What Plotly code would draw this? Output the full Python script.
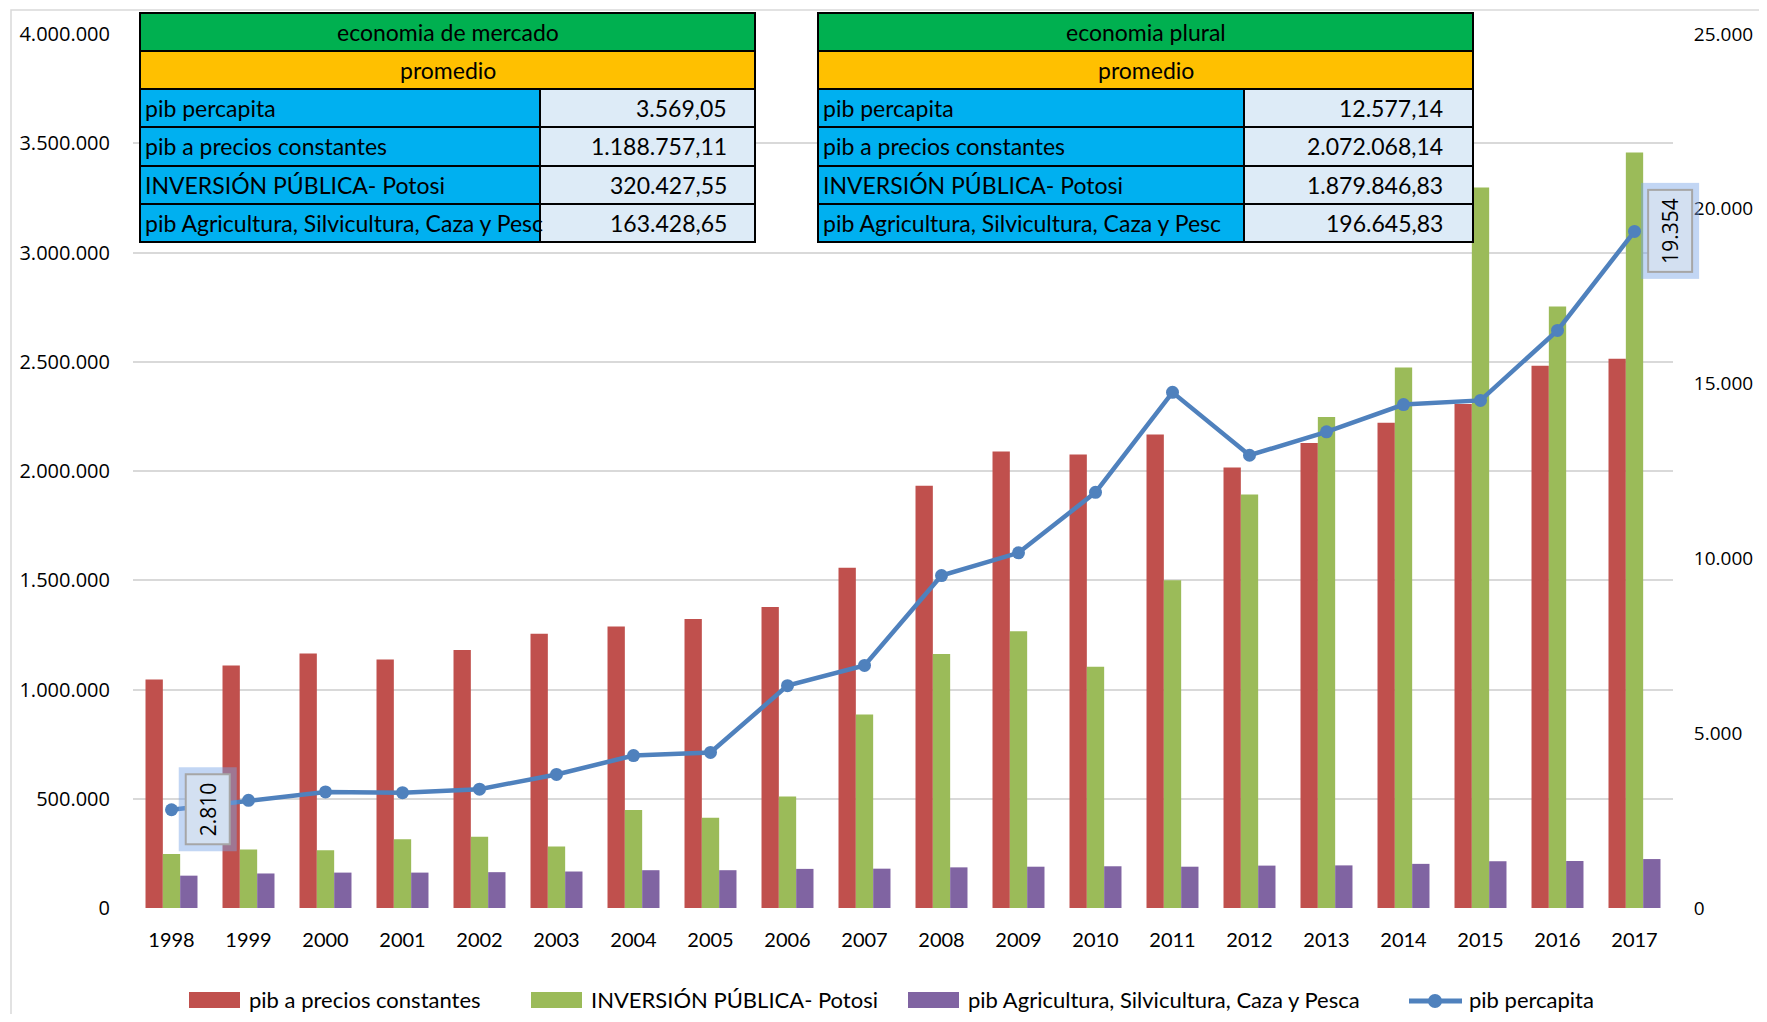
import plotly.graph_objects as go

# ---------------- data ----------------
years = ["1998", "1999", "2000", "2001", "2002", "2003", "2004", "2005", "2006", "2007",
         "2008", "2009", "2010", "2011", "2012", "2013", "2014", "2015", "2016", "2017"]

pib_constantes = [1046000, 1110000, 1165000, 1137000, 1181000, 1255000, 1288000, 1323000,
                  1378000, 1557000, 1933000, 2089000, 2075000, 2167000, 2016000, 2128000,
                  2221000, 2307000, 2482000, 2514000]

inversion_publica = [247000, 268000, 264000, 315000, 326000, 282000, 448000, 413000,
                     510000, 886000, 1163000, 1267000, 1104000, 1500000, 1892000, 2247000,
                     2474000, 3298000, 2753000, 3458000]

pib_agricultura = [148000, 158000, 162000, 162000, 164000, 167000, 173000, 173000,
                   179000, 180000, 186000, 189000, 191000, 189000, 194000, 195000,
                   202000, 214000, 215000, 224000]

pib_percapita = [2810, 3080, 3320, 3300, 3400, 3820, 4360, 4450,
                 6360, 6940, 9510, 10160, 11890, 14750, 12950, 13620,
                 14400, 14520, 16520, 19354]

series_names = ["pib a precios constantes", "INVERSIÓN PÚBLICA- Potosi",
                "pib Agricultura, Silvicultura, Caza y Pesca", "pib percapita"]

left_ticks = [0, 500000, 1000000, 1500000, 2000000, 2500000, 3000000, 3500000, 4000000]
right_ticks = [0, 5000, 10000, 15000, 20000, 25000]

labelled_years = ["1998", "2017"]

table_titles = ["economia de mercado", "economia plural"]
table_subtitle = "promedio"
row_labels = ["pib percapita", "pib a precios constantes", "INVERSIÓN PÚBLICA- Potosi",
              "pib Agricultura, Silvicultura, Caza y Pesc"]
left_values = ["3.569,05", "1.188.757,11", "320.427,55", "163.428,65"]
right_values = ["12.577,14", "2.072.068,14", "1.879.846,83", "196.645,83"]

# ---------------- styles ----------------
RED = "#C0504D"
GREEN = "#9BBB59"
PURPLE = "#8064A2"
BLUE = "#4F81BD"
GRID = "#D9D9D9"

OFF = 8                       # default page margin of the html body
FW, FH = 1751, 1006           # figure size
L, R, T, B = 133, 1673, 34, 908   # plot area in page pixels


def px(x):
    return (x - L) / (R - L)


def py(y):
    return (B - y) / (B - T)


def fmt(v):
    return f"{v:,}".replace(",", ".")


fig = go.Figure()

fig.add_trace(go.Bar(x=years, y=pib_constantes, name=series_names[0], marker_color=RED,
                     marker_line_width=0))
fig.add_trace(go.Bar(x=years, y=inversion_publica, name=series_names[1], marker_color=GREEN,
                     marker_line_width=0))
fig.add_trace(go.Bar(x=years, y=pib_agricultura, name=series_names[2], marker_color=PURPLE,
                     marker_line_width=0))
fig.add_trace(go.Scatter(x=years, y=pib_percapita, name=series_names[3], yaxis="y2",
                         mode="lines+markers", line=dict(color=BLUE, width=4.5),
                         marker=dict(color=BLUE, size=13), cliponaxis=False))

shapes = []
annotations = []

# chart-area border (cropped screenshot edge)
shapes.append(dict(type="rect", xref="paper", yref="paper", x0=px(11), x1=1.2,
                   y0=-0.3, y1=py(10), line=dict(color=GRID, width=1.5),
                   fillcolor="rgba(0,0,0,0)", layer="below"))

# ---------------- tables ----------------
row_edges = [13, 51, 89, 127, 166, 204, 242]
tables = [
    dict(x0=140, xs=540, x1=755, title=table_titles[0], values=left_values, pad=26),
    dict(x0=818, xs=1244, x1=1473, title=table_titles[1], values=right_values, pad=28),
]
TFONT = dict(family="Lato", size=23, color="#000000")
for t in tables:
    shapes.append(dict(type="rect", xref="paper", yref="paper",
                       x0=px(t["x0"]), x1=px(t["x1"]), y0=py(row_edges[1]), y1=py(row_edges[0]),
                       fillcolor="#00B050", line=dict(color="#000000", width=2)))
    annotations.append(dict(xref="paper", yref="paper", x=px((t["x0"] + t["x1"]) / 2),
                            y=py((row_edges[0] + row_edges[1]) / 2), text=t["title"],
                            showarrow=False, font=TFONT, xanchor="center", yanchor="middle"))
    shapes.append(dict(type="rect", xref="paper", yref="paper",
                       x0=px(t["x0"]), x1=px(t["x1"]), y0=py(row_edges[2]), y1=py(row_edges[1]),
                       fillcolor="#FFC000", line=dict(color="#000000", width=2)))
    annotations.append(dict(xref="paper", yref="paper", x=px((t["x0"] + t["x1"]) / 2),
                            y=py((row_edges[1] + row_edges[2]) / 2), text=table_subtitle,
                            showarrow=False, font=TFONT, xanchor="center", yanchor="middle"))
    for i, (lab, val) in enumerate(zip(row_labels, t["values"])):
        ya, yb = row_edges[i + 2], row_edges[i + 3]
        shapes.append(dict(type="rect", xref="paper", yref="paper",
                           x0=px(t["x0"]), x1=px(t["xs"]), y0=py(yb), y1=py(ya),
                           fillcolor="#00B0F0", line=dict(color="#000000", width=2)))
        shapes.append(dict(type="rect", xref="paper", yref="paper",
                           x0=px(t["xs"]), x1=px(t["x1"]), y0=py(yb), y1=py(ya),
                           fillcolor="#DDEBF7", line=dict(color="#000000", width=2)))
        annotations.append(dict(xref="paper", yref="paper", x=px(t["x0"] + 3),
                                y=py((ya + yb) / 2), text=lab, showarrow=False, font=TFONT,
                                xanchor="left", yanchor="middle"))
        annotations.append(dict(xref="paper", yref="paper", x=px(t["x1"] - t["pad"]),
                                y=py((ya + yb) / 2), text=val, showarrow=False, font=TFONT,
                                xanchor="right", yanchor="middle"))

# ---------------- data labels ----------------
for yr in labelled_years:
    idx = years.index(yr)
    v = pib_percapita[idx]
    annotations.append(dict(x=idx, y=v, xref="x", yref="y2", text=fmt(v), textangle=-90,
                            showarrow=False, xshift=36,
                            font=dict(family="Open Sans", size=21, color="rgba(0,0,0,0)"),
                            bgcolor="rgba(0,0,0,0)", bordercolor="rgba(120,165,230,0.45)",
                            borderwidth=8, borderpad=7))
    annotations.append(dict(x=idx, y=v, xref="x", yref="y2", text=fmt(v), textangle=-90,
                            showarrow=False, xshift=36,
                            font=dict(family="Open Sans", size=21, color="#000000"),
                            bgcolor="#D3E0F1", bordercolor="#A6A6A6",
                            borderwidth=2, borderpad=7))

# ---------------- custom legend ----------------
LEG_Y = 1000
LFONT = dict(family="Lato", size=22, color="#000000")
leg_items = [(189, RED, series_names[0]), (531, GREEN, series_names[1]),
             (908, PURPLE, series_names[2])]
for x0, col, name in leg_items:
    shapes.append(dict(type="rect", xref="paper", yref="paper", x0=px(x0), x1=px(x0 + 51),
                       y0=py(LEG_Y + 8), y1=py(LEG_Y - 8), fillcolor=col,
                       line=dict(width=0)))
    annotations.append(dict(xref="paper", yref="paper", x=px(x0 + 58), y=py(LEG_Y),
                            text=name, showarrow=False, font=LFONT,
                            xanchor="left", yanchor="middle"))
shapes.append(dict(type="line", xref="paper", yref="paper", x0=px(1409), x1=px(1462),
                   y0=py(LEG_Y + 1), y1=py(LEG_Y + 1), line=dict(color=BLUE, width=5)))
shapes.append(dict(type="circle", xref="paper", yref="paper", x0=px(1428), x1=px(1442),
                   y0=py(LEG_Y + 8), y1=py(LEG_Y - 6), fillcolor=BLUE,
                   line=dict(color=BLUE, width=0)))
annotations.append(dict(xref="paper", yref="paper", x=px(1467), y=py(LEG_Y),
                        text=series_names[3], showarrow=False, font=LFONT,
                        xanchor="left", yanchor="middle"))

fig.update_layout(
    width=FW, height=FH, autosize=False,
    margin=dict(l=L - OFF, r=FW - (R - OFF), t=T - OFF, b=FH - (B - OFF), pad=0,
                autoexpand=False),
    paper_bgcolor="white", plot_bgcolor="white",
    separators=",.",
    barmode="group", bargap=0.325, bargroupgap=0,
    showlegend=False,
    xaxis=dict(type="category", categoryorder="array", categoryarray=years,
               range=[-0.5, len(years) - 0.5], autorange=False, automargin=False,
               showgrid=False, zeroline=False, showline=False,
               ticks="outside", ticklen=14, tickcolor="rgba(0,0,0,0)",
               tickfont=dict(family="Lato", size=20, color="#000000")),
    yaxis=dict(range=[0, 4000000], tickvals=left_ticks, tickformat=",d", automargin=False,
               showgrid=True, gridcolor=GRID, gridwidth=2, zeroline=False, showline=False,
               ticks="outside", ticklen=18, tickcolor="rgba(0,0,0,0)",
               tickfont=dict(family="Open Sans", size=20, color="#000000")),
    yaxis2=dict(range=[0, 25000], tickvals=right_ticks, tickformat=",d", automargin=False,
                overlaying="y", side="right", showgrid=False, zeroline=False, showline=False,
                ticks="outside", ticklen=16, tickcolor="rgba(0,0,0,0)",
                tickfont=dict(family="Open Sans", size=19, color="#000000")),
    shapes=shapes,
    annotations=annotations,
)

fig.write_html("out.html")
